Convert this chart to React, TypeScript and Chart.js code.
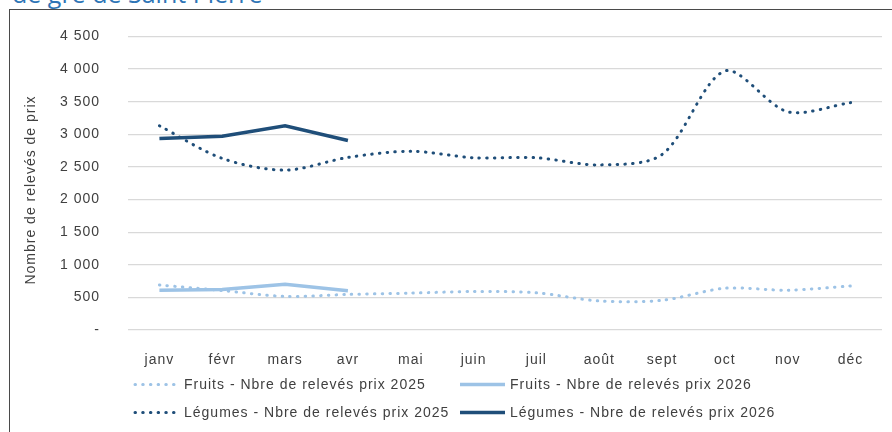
import React, { useEffect, useRef } from "react";
import { Chart, registerables } from "chart.js";

Chart.register(...registerables);

const months = ["janv", "févr", "mars", "avr", "mai", "juin", "juil", "août", "sept", "oct", "nov", "déc"];
const fruits2025 = [690, 605, 515, 545, 565, 590, 570, 445, 455, 640, 610, 675];
const fruits2026 = [610, 620, 700, 600];
const legumes2025 = [3130, 2630, 2450, 2645, 2740, 2640, 2640, 2530, 2690, 3970, 3345, 3485];
const legumes2026 = [2935, 2970, 3130, 2905];
const yTicks = [0, 500, 1000, 1500, 2000, 2500, 3000, 3500, 4000, 4500];

const LIGHT = "#9DC3E6";
const DARK = "#1F4E79";
const TEXT = "#404040";
const FONT = "'Liberation Sans', Arial, sans-serif";

const fmt = (v: number) => {
  if (v === 0) return "-";
  const s = String(Math.round(v));
  return s.replace(/\B(?=(\d{3})+(?!\d))/g, " ");
};

const spacingPlugin = {
  id: "spacing",
  beforeLayout(chart: any) {
    chart.ctx.letterSpacing = "1px";
  },
  beforeDraw(chart: any) {
    chart.ctx.letterSpacing = "1px";
  },
};

const extrasPlugin = {
  id: "extras",
  afterDraw(chart: any) {
    const ctx = chart.ctx as CanvasRenderingContext2D;
    ctx.save();
    (ctx as any).letterSpacing = "1px";
    // y-axis title
    ctx.save();
    ctx.translate(31, 190);
    ctx.rotate(-Math.PI / 2);
    ctx.font = `14px ${FONT}`;
    ctx.fillStyle = TEXT;
    ctx.textAlign = "center";
    ctx.textBaseline = "middle";
    ctx.fillText("Nombre de relevés de prix", 0, 0);
    ctx.restore();
    // legend
    const rows = [384.5, 412.5];
    const cols = [
      { x0: 135, x1: 177, tx: 184 },
      { x0: 460, x1: 505, tx: 510 },
    ];
    chart.data.datasets.forEach((ds: any, i: number) => {
      const c = cols[i % 2];
      const y = rows[Math.floor(i / 2)];
      ctx.save();
      ctx.strokeStyle = ds.borderColor;
      ctx.lineWidth = ds.borderWidth;
      ctx.lineCap = ds.borderCapStyle || "butt";
      ctx.setLineDash(ds.borderDash || []);
      ctx.beginPath();
      ctx.moveTo(c.x0, y);
      ctx.lineTo(c.x1, y);
      ctx.stroke();
      ctx.restore();
      ctx.font = `14px ${FONT}`;
      ctx.fillStyle = TEXT;
      ctx.textAlign = "left";
      ctx.textBaseline = "middle";
      ctx.fillText(ds.label, c.tx, y + 0.5);
    });
    ctx.restore();
  },
};

export default function App() {
  const ref = useRef<HTMLCanvasElement>(null);
  useEffect(() => {
    if (!ref.current) return;
    const dotted = { borderDash: [0.5, 7.2], borderCapStyle: "round", borderWidth: 3 };
    const chart = new Chart(ref.current, {
      type: "line",
      data: {
        labels: months,
        datasets: [
          { label: "Fruits - Nbre de relevés prix 2025", data: fruits2025, borderColor: LIGHT, tension: 0.3, ...dotted },
          { label: "Fruits - Nbre de relevés prix 2026", data: fruits2026, borderColor: LIGHT, borderWidth: 3.5, tension: 0, borderCapStyle: "butt" },
          { label: "Légumes - Nbre de relevés prix 2025", data: legumes2025, borderColor: DARK, tension: 0.3, ...dotted },
          { label: "Légumes - Nbre de relevés prix 2026", data: legumes2026, borderColor: DARK, borderWidth: 3.5, tension: 0, borderCapStyle: "butt" },
        ] as any,
      },
      options: {
        animation: false,
        responsive: false,
        devicePixelRatio: 1,
        layout: { padding: { left: 0, right: 10, top: 27, bottom: 0 } },
        elements: { point: { radius: 0, hoverRadius: 0 } },
        plugins: { legend: { display: false }, tooltip: { enabled: false }, title: { display: false } },
        scales: {
          x: {
            offset: true,
            grid: { display: false },
            border: { display: false },
            ticks: { color: TEXT, font: { family: FONT, size: 14 }, padding: 14, maxRotation: 0, autoSkip: false },
            afterFit: (s: any) => { s.height = 102; },
          },
          y: {
            min: 0,
            max: 4500,
            afterBuildTicks: (s: any) => { s.ticks = yTicks.map((v) => ({ value: v })); },
            grid: { color: "#D9D9D9", lineWidth: 1.2, drawTicks: false },
            border: { display: false },
            ticks: { color: TEXT, font: { family: FONT, size: 14 }, padding: 28, callback: (v: any) => fmt(Number(v)) },
            afterFit: (s: any) => { s.width = 128; },
          },
        },
      },
      plugins: [spacingPlugin, extrasPlugin],
    } as any);
    return () => chart.destroy();
  }, []);

  return (
    <div style={{ position: "fixed", left: 0, top: 0, width: 892, height: 432, overflow: "hidden", background: "#fff" }}>
      <div
        style={{
          position: "absolute",
          left: 12,
          top: -22,
          fontFamily: "'Open Sans', sans-serif",
          fontSize: 25,
          lineHeight: "30px",
          color: "#2E75B6",
          whiteSpace: "nowrap",
        }}
      >
        de gré de Saint Pierre
      </div>
      <div
        style={{
          position: "absolute",
          left: 9,
          top: 9,
          width: 900,
          height: 500,
          border: "1px solid #4a4a4a",
          boxSizing: "border-box",
        }}
      />
      <canvas ref={ref} width={892} height={432} style={{ position: "absolute", left: 0, top: 0, width: 892, height: 432 }} />
    </div>
  );
}
